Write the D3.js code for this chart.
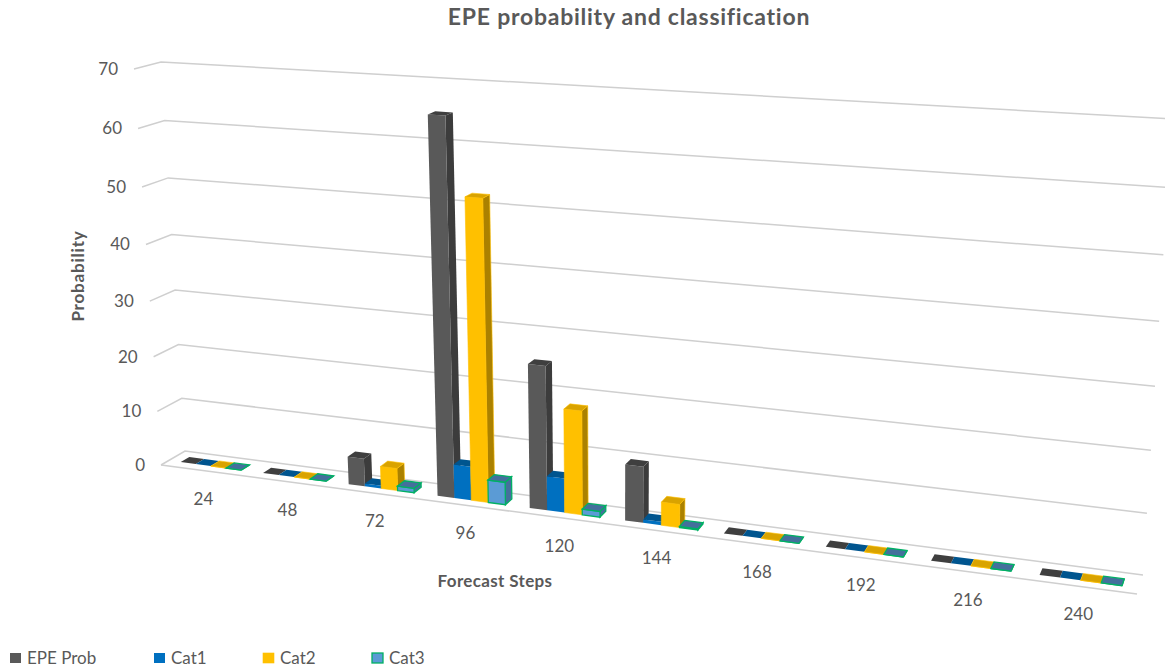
<!DOCTYPE html>
<html lang="en">
<head>
    <meta charset="UTF-8">
    <title>EPE probability and classification</title>
    <script src="https://d3js.org/d3.v7.min.js"></script>
    <style>
        body { margin: 0; background: #fff; }
        text { font-family: Lato, "Open Sans", sans-serif; fill: #595959; }
    </style>
</head>
<body>
    <svg width="1165" height="670"></svg>
    <script type="text/javascript">
        // Values
        var steps = [24, 48, 72, 96, 120, 144, 168, 192, 216, 240];
        var epeProb = [0, 0, 5, 65, 25, 9.7, 0, 0, 0, 0];
        var cat1 = [0, 0, 0.5, 6, 6, 0.6, 0, 0, 0, 0];
        var cat2 = [0, 0, 4, 52, 18, 4, 0, 0, 0, 0];
        var cat3 = [0, 0, 0.8, 4, 1, 0.2, 0, 0, 0, 0];
        var valueTicks = [0, 10, 20, 30, 40, 50, 60, 70];
        var seriesNames = ["EPE Prob", "Cat1", "Cat2", "Cat3"];

        var seriesValues = [epeProb, cat1, cat2, cat3];
        var colors = [
            {front: "#595959", side: "#3c3c3c", top: "#3f3f3f", stroke: "none"},
            {front: "#0070c0", side: "#00508c", top: "#00558f", stroke: "none"},
            {front: "#ffc000", side: "#ab8100", top: "#d9a300", stroke: "#ffc000"},
            {front: "#5b9bd5", side: "#44709c", top: "#44709c", stroke: "#00b064"}
        ];

        // The scales work in unit space, project() turns that into pixels
        var x = d3.scaleBand().domain(steps).range([0, 1]).paddingInner(0.26).paddingOuter(0.15);
        var xSeries = d3.scaleBand().domain(seriesNames).range([0, x.bandwidth()]);
        var y = d3.scaleLinear().domain([0, 70]).range([0, 1]);
        var barDepth = [0.32, 0.68];

        // Corners of the chart box as Excel's 3-D view draws them
        var frontFloor = d3.interpolate([161, 465], [1137, 594]);
        var backFloor = d3.interpolate([185, 451], [1143, 575]);
        var frontTop = d3.interpolate([134, 69], [1167, 130]);
        var backTop = d3.interpolate([161, 62], [1172, 119]);

        // Perspective squeeze, things get a bit bigger to the right and higher up
        function warp(t, k) { return t * (1 - k) + k * t * t; }

        function project(t, v, d) {
            var u = warp(t, 0.17), h = warp(y(v), 0.06);
            var front = d3.interpolate(frontFloor(u), frontTop(u))(h);
            var back = d3.interpolate(backFloor(u), backTop(u))(h);
            return d3.interpolate(front, back)(d);
        }

        var svg = d3.select("svg");
        var line = d3.line();

        // Gridlines: short side wall piece, then the long back wall piece
        svg.append("g").selectAll("path")
            .data(valueTicks)
            .enter().append("path")
            .attr("d", function(v) { return line([project(0, v, 0), project(0, v, 1), project(1, v, 1)]); })
            .attr("fill", "none")
            .attr("stroke", "#cfcfcf")
            .attr("stroke-width", 1.5);

        // Front edge of the floor
        svg.append("path")
            .attr("d", line([project(0, 0, 0), project(1, 0, 0)]))
            .attr("fill", "none")
            .attr("stroke", "#cfcfcf")
            .attr("stroke-width", 1.5);

        // Bars, left to right so each one covers the side of the one before
        var bars = svg.append("g");
        steps.forEach(function(step, i) {
            seriesNames.forEach(function(name, s) {
                var v = seriesValues[s][i];
                var t0 = x(step) + xSeries(name), t1 = t0 + xSeries.bandwidth();
                var d0 = barDepth[0], d1 = barDepth[1];
                var c = colors[s];
                var g = bars.append("g").attr("stroke", c.stroke).attr("stroke-width", s == 3 ? 1.3 : 0.6);
                g.append("path")
                    .attr("d", line([project(t1, 0, d0), project(t1, 0, d1), project(t1, v, d1), project(t1, v, d0)]) + "Z")
                    .attr("fill", c.side);
                g.append("path")
                    .attr("d", line([project(t0, 0, d0), project(t1, 0, d0), project(t1, v, d0), project(t0, v, d0)]) + "Z")
                    .attr("fill", c.front);
                g.append("path")
                    .attr("d", line([project(t0, v, d0), project(t1, v, d0), project(t1, v, d1), project(t0, v, d1)]) + "Z")
                    .attr("fill", c.top);
            });
        });

        // Value axis labels
        svg.append("g").selectAll("text")
            .data(valueTicks)
            .enter().append("text")
            .attr("x", function(v) { return project(0, v, 0)[0] - 16; })
            .attr("y", function(v) { return project(0, v, 0)[1]; })
            .attr("dy", "0.35em")
            .attr("text-anchor", "end")
            .attr("font-size", 17)
            .text(function(v) { return v; });

        // Category labels sit under the front edge
        svg.append("g").selectAll("text")
            .data(steps)
            .enter().append("text")
            .attr("x", function(s) { return project(x(s) + x.bandwidth() / 2, 0, 0)[0]; })
            .attr("y", function(s) { return project(x(s) + x.bandwidth() / 2, 0, 0)[1] + 28; })
            .attr("dy", "0.35em")
            .attr("text-anchor", "middle")
            .attr("font-size", 17)
            .text(function(s) { return s; });

        // Titles
        svg.append("text")
            .attr("x", 629).attr("y", 25)
            .attr("text-anchor", "middle")
            .attr("font-size", 23)
            .attr("letter-spacing", 0.75)
            .attr("font-weight", "bold")
            .text("EPE probability and classification");

        svg.append("text")
            .attr("transform", "translate(84,276) rotate(-90)")
            .attr("text-anchor", "middle")
            .attr("font-size", 17)
            .attr("letter-spacing", 0.8)
            .attr("font-weight", "bold")
            .text("Probability");

        svg.append("text")
            .attr("x", 495).attr("y", 587)
            .attr("text-anchor", "middle")
            .attr("font-size", 17)
            .attr("letter-spacing", 0.35)
            .attr("font-weight", "bold")
            .text("Forecast Steps");

        // Legend
        var legendX = d3.scaleOrdinal().domain(seriesNames).range([10, 154, 263, 372]);
        var legend = svg.append("g").selectAll("g")
            .data(seriesNames)
            .enter().append("g")
            .attr("transform", function(d) { return "translate(" + legendX(d) + ",653)"; });

        legend.append("rect")
            .attr("width", 11).attr("height", 10)
            .attr("fill", function(d, i) { return colors[i].front; })
            .attr("stroke", function(d, i) { return colors[i].stroke; })
            .attr("stroke-width", function(d, i) { return i == 3 ? 1.3 : 0.6; });

        legend.append("text")
            .attr("x", 17).attr("y", 5)
            .attr("dy", "0.35em")
            .attr("font-size", 17)
            .text(function(d) { return d; });
    </script>
</body>
</html>
